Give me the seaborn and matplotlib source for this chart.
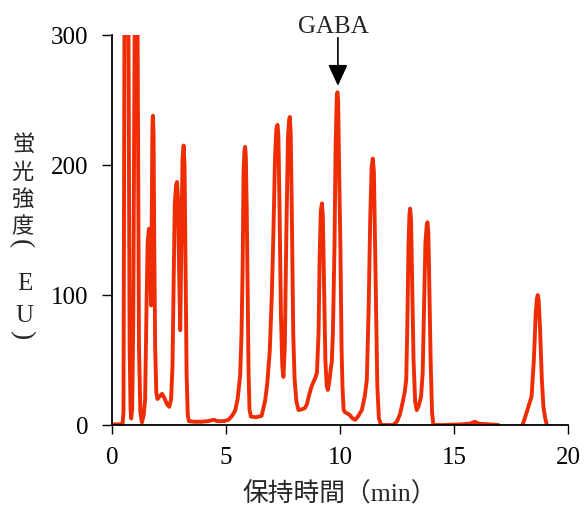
import matplotlib
matplotlib.use("Agg")
import matplotlib.pyplot as plt
import seaborn as sns
import pandas as pd
import numpy as np

# Retention time (min) and fluorescence intensity (EU)
retention_time = [
    0.00, 0.30, 0.45, 0.49, 0.53, 0.58, 0.66, 0.71, 0.76, 0.80, 0.83, 0.87, 0.92,
    0.98, 1.03, 1.07, 1.11, 1.17, 1.23, 1.30, 1.38,
    1.44, 1.50, 1.55, 1.61, 1.66, 1.70, 1.73, 1.76, 1.78, 1.81, 1.84, 1.88, 1.93,
    1.98, 2.08, 2.18, 2.28, 2.40, 2.50, 2.58, 2.64, 2.69, 2.74, 2.80, 2.84, 2.88,
    2.93, 2.98, 3.03, 3.08, 3.13, 3.17, 3.21, 3.26, 3.31, 3.36,
    3.60, 3.90, 4.20, 4.45, 4.60, 4.90, 5.10,
    5.25, 5.39, 5.50, 5.61, 5.67, 5.72, 5.76, 5.80, 5.83, 5.86, 5.90, 5.94, 5.98,
    6.02, 6.08, 6.30, 6.55,
    6.71, 6.80, 6.91, 7.00, 7.07, 7.14, 7.20, 7.25, 7.29, 7.34, 7.40, 7.46, 7.51,
    7.57, 7.64, 7.71, 7.76, 7.79, 7.83, 7.88, 7.94, 8.00, 8.08, 8.17, 8.30, 8.45,
    8.54, 8.65, 8.75, 8.90, 8.98,
    9.05, 9.10, 9.15, 9.20, 9.24, 9.29, 9.35, 9.41, 9.46, 9.52, 9.60,
    9.63, 9.68, 9.75, 9.80, 9.85, 9.88, 9.91, 9.96, 10.01, 10.06, 10.10, 10.15,
    10.20, 10.40, 10.55, 10.66, 10.80, 10.95, 11.08, 11.17,
    11.25, 11.32, 11.38, 11.43, 11.48, 11.53, 11.58, 11.63, 11.70, 11.80, 12.00,
    12.34, 12.50, 12.62, 12.70, 12.83, 12.90,
    12.95, 13.00, 13.04, 13.07, 13.11, 13.16, 13.22, 13.29, 13.36, 13.45, 13.55,
    13.62, 13.68, 13.74, 13.80, 13.83, 13.87, 13.92, 13.97, 14.03, 14.09,
    14.50, 15.30, 15.70, 15.90, 16.10, 16.50, 16.95, 17.05, 17.90, 18.00, 18.10,
    18.26, 18.40, 18.50, 18.58, 18.63, 18.67, 18.71, 18.77, 18.85, 18.92, 19.00,
    19.07, 19.15, 20.00,
]
intensity = [
    0.5, 0.5, 1, 10, 300, 520, 520, 300, 60, 12, 5, 12, 80,
    300, 520, 520, 300, 60, 10, 2, 8,
    20, 90, 140, 151, 130, 92, 160, 230, 238, 225, 140, 60, 25,
    20, 22, 24, 21, 16, 14, 20, 45, 110, 170, 185, 187, 175,
    120, 73, 140, 205, 215, 200, 130, 40, 8, 3,
    2.5, 2.5, 3, 4, 3, 3, 4,
    7, 11, 20, 38, 70, 122, 195, 211, 214, 206, 165, 105, 40,
    12, 6.5, 6, 7,
    19, 32, 57, 100, 148, 205, 228, 231, 222, 165, 85, 45, 37,
    60, 150, 222, 235, 237, 224, 160, 70, 35, 18, 11.5, 12, 13,
    16, 24, 30, 36, 40,
    70, 130, 165, 170.5, 160, 110, 50, 30, 27, 33, 45,
    48, 70, 137, 215, 252, 256, 250, 190, 137, 60, 30, 12,
    10, 8, 5, 4, 7, 11.5, 22, 35,
    90, 160, 198, 205, 195, 140, 80, 30, 5, 0, 0,
    0, 3, 8, 14, 25, 35,
    80, 140, 162, 166.5, 158, 110, 50, 18, 11.5, 15, 22,
    40, 90, 140, 154, 156, 148, 100, 50, 10, 0,
    0, 0.5, 1, 2.5, 1, 0.5, 0, -5, -5, 0, 5,
    14, 22, 50, 85, 97, 100, 96, 75, 35, 14, 5,
    0, -5, -5,
]

x_ticks = [0, 5, 10, 15, 20]
y_ticks = [0, 100, 200, 300]
peak_label = "GABA"
peak_time = 9.9
x_title = "保持時間（min）"
y_title_chars = ["蛍", "光", "強", "度", "(", "E", "U", ")"]

df = pd.DataFrame({"time": retention_time, "signal": intensity})

sns.set_style("ticks")
plt.rcParams["font.family"] = ["Liberation Serif", "Noto Sans CJK JP"]

W, H = 585, 509


def ink_offset(ch, **kw):
    """Offset (px, y down) of the glyph's ink centre from the text anchor."""
    f = plt.figure(figsize=(2, 2), dpi=100)
    f.text(0.5, 0.5, ch, ha="center", va="center", color="black", **kw)
    f.canvas.draw()
    arr = np.asarray(f.canvas.buffer_rgba())[..., :3]
    plt.close(f)
    ys, xs = np.nonzero(arr.min(axis=2) < 160)
    if len(xs) == 0:
        return 0.0, 0.0
    return (xs.min() + xs.max()) / 2 - 100, (ys.min() + ys.max()) / 2 - 100


fig = plt.figure(figsize=(W / 100, H / 100), dpi=100)
ax = fig.add_axes([0.192, 0.165, 0.779, 0.766])

sns.lineplot(data=df, x="time", y="signal", sort=False, estimator=None,
             color="#EE2D05", linewidth=2.8, ax=ax)

ax.set_xlim(0, 20)
ax.set_ylim(0, 300)
ax.set_xticks(x_ticks)
ax.set_yticks(y_ticks)
ax.set_xticklabels([str(v) for v in x_ticks], fontsize=18)
ax.set_yticklabels([str(v) for v in y_ticks], fontsize=18)
ax.tick_params(axis="x", direction="out", length=6.5, width=1, pad=9, colors="black")
ax.tick_params(axis="y", direction="out", length=7, width=1, pad=10, colors="black")
ax.set_xlabel("")
ax.set_ylabel("")
sns.despine(ax=ax)
for s in ("left", "bottom"):
    ax.spines[s].set_linewidth(1.3)
    ax.spines[s].set_color("black")

# GABA annotation
ax.annotate("", xy=(peak_time, 261), xytext=(peak_time, 298), xycoords="data",
            annotation_clip=False,
            arrowprops=dict(arrowstyle="-|>,head_length=1.3,head_width=0.6",
                            color="black", lw=1.2, mutation_scale=10,
                            shrinkA=0, shrinkB=0))
ax.text(9.69, 301.5, peak_label, ha="center", va="baseline", fontsize=18, clip_on=False)

fig.text(0.581, 1 - 494 / H, x_title, ha="center", va="center", fontsize=18.5)

# vertical (tategaki) y-axis title, one glyph per row, ink-centred on target spots
targets = [(23, 142), (23, 170), (23, 197), (23, 224), (23, 243),
           (24.5, 281), (24.5, 313), (23, 335)]
for ch, (tx, ty) in zip(y_title_chars, targets):
    kw = dict(fontsize=16)
    if ch in ("(", ")"):
        kw = dict(fontsize=20, rotation=-90)
    elif ch in ("E", "U"):
        kw = dict(fontsize=18)
    dx, dy = ink_offset(ch, **kw)
    fig.text((tx - dx) / W, 1 - (ty - dy) / H, ch, ha="center", va="center", **kw)

fig.savefig("out.png", dpi=100)
